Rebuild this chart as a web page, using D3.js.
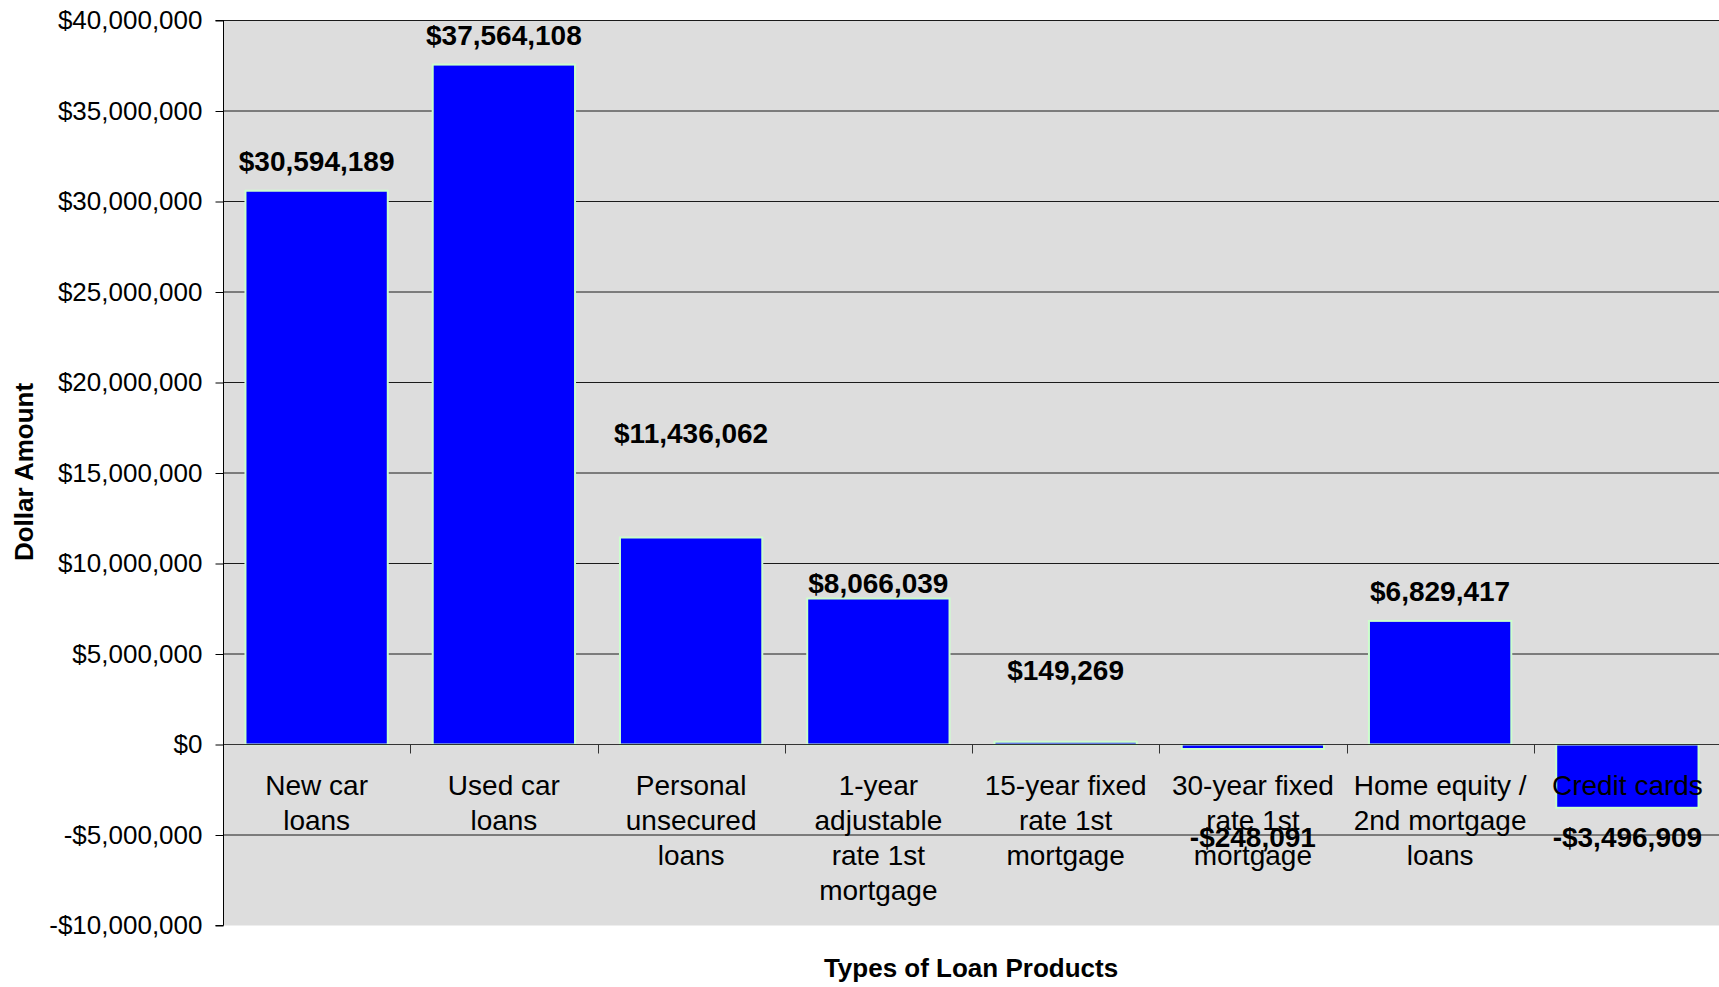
<!DOCTYPE html>
<html>
<head>
<meta charset="utf-8">
<script src="https://cdn.jsdelivr.net/npm/d3@7"></script>
<style>
  html, body { margin: 0; padding: 0; background: #ffffff; }
  svg { display: block; }
  text { font-family: Arial, "Liberation Sans", sans-serif; fill: #000; }
</style>
</head>
<body>
<svg id="chart" width="1719" height="987"></svg>
<script>
// Loan product categories (line breaks mark where the axis labels wrap)
const categories = [
  "New car\nloans",
  "Used car\nloans",
  "Personal\nunsecured\nloans",
  "1-year\nadjustable\nrate 1st\nmortgage",
  "15-year fixed\nrate 1st\nmortgage",
  "30-year fixed\nrate 1st\nmortgage",
  "Home equity /\n2nd mortgage\nloans",
  "Credit cards"
];

// Dollar amount per loan product
const amounts = [30594189, 37564108, 11436062, 8066039, 149269, -248091, 6829417, -3496909];

// Value axis ticks
const yTicks = [-10000000, -5000000, 0, 5000000, 10000000, 15000000, 20000000, 25000000, 30000000, 35000000, 40000000];

// Distance (px) between each bar end and its value label baseline
const labelGap = [20, 20, 95, 6, 62, 98, 20, 39];

const W = 1719, H = 987;
const plot = { left: 223, right: 1721, top: 20.5, bottom: 925.5 };

const svg = d3.select("#chart");

const x = d3.scaleBand()
  .domain(d3.range(categories.length))
  .range([plot.left, plot.right])
  .paddingInner(0.24)
  .paddingOuter(0.12);

const y = d3.scaleLinear()
  .domain([d3.min(yTicks), d3.max(yTicks)])
  .range([plot.bottom, plot.top]);

const money = v => (v < 0 ? "-$" : "$") + d3.format(",")(Math.abs(v));

// Plot area background
svg.append("rect")
  .attr("x", plot.left).attr("y", plot.top)
  .attr("width", W - plot.left).attr("height", plot.bottom - plot.top)
  .attr("fill", "#dddddd");

// Horizontal gridlines
svg.append("g")
  .selectAll("line")
  .data(yTicks.filter(t => t !== 0 && t !== d3.min(yTicks)))
  .join("line")
  .attr("x1", plot.left).attr("x2", W)
  .attr("y1", d => y(d)).attr("y2", d => y(d))
  .attr("stroke", "#1a1a1a")
  .attr("stroke-width", 1);

// Bars
svg.append("g")
  .selectAll("rect")
  .data(amounts)
  .join("rect")
  .attr("x", (d, i) => x(i))
  .attr("width", x.bandwidth())
  .attr("y", d => y(Math.max(0, d)))
  .attr("height", d => Math.abs(y(d) - y(0)))
  .attr("fill", "#0000ff")
  .attr("stroke", "#ccffcc")
  .attr("stroke-width", 2);

// Zero line with category boundary ticks
const step = x.step();
const zeroY = y(0);
svg.append("line")
  .attr("x1", plot.left).attr("x2", W)
  .attr("y1", zeroY).attr("y2", zeroY)
  .attr("stroke", "#333333").attr("stroke-width", 1);
svg.append("g")
  .selectAll("line")
  .data(d3.range(categories.length + 1))
  .join("line")
  .attr("x1", i => Math.round(plot.left + i * step) + 0.5)
  .attr("x2", i => Math.round(plot.left + i * step) + 0.5)
  .attr("y1", zeroY).attr("y2", zeroY + 9)
  .attr("stroke", "#333333").attr("stroke-width", 1);

// Value axis
const yAxis = svg.append("g")
  .attr("transform", `translate(${plot.left + 0.5},0)`)
  .call(d3.axisLeft(y).tickValues(yTicks).tickFormat(money).tickSize(8).tickPadding(13));
yAxis.select(".domain").attr("stroke", "#000").attr("d", `M-8,${plot.top}H0V${plot.bottom}H-8`);
yAxis.selectAll(".tick line").attr("stroke", "#000");
yAxis.selectAll(".tick text")
  .attr("font-size", 26)
  .attr("font-family", "Arial, 'Liberation Sans', sans-serif")
  .attr("fill", "#000");

// Category labels
svg.append("g")
  .selectAll("text")
  .data(categories)
  .join("text")
  .attr("text-anchor", "middle")
  .attr("font-size", 28)
  .each(function (d, i) {
    const cx = x(i) + x.bandwidth() / 2;
    d3.select(this).selectAll("tspan")
      .data(d.split("\n"))
      .join("tspan")
      .attr("x", cx)
      .attr("y", (line, j) => 795 + j * 35)
      .text(line => line);
  });

// Value labels
svg.append("g")
  .selectAll("text")
  .data(amounts)
  .join("text")
  .attr("text-anchor", "middle")
  .attr("font-size", 28)
  .attr("font-weight", "bold")
  .attr("x", (d, i) => x(i) + x.bandwidth() / 2)
  .attr("y", (d, i) => d >= 0 ? y(d) - labelGap[i] : y(d) + labelGap[i])
  .text(d => money(d));

// Axis titles
svg.append("text")
  .attr("text-anchor", "middle")
  .attr("font-size", 26)
  .attr("font-weight", "bold")
  .attr("transform", "translate(33,472) rotate(-90)")
  .text("Dollar Amount");

svg.append("text")
  .attr("text-anchor", "middle")
  .attr("font-size", 26)
  .attr("font-weight", "bold")
  .attr("x", (plot.left + W) / 2)
  .attr("y", 977)
  .text("Types of Loan Products");
</script>
</body>
</html>
